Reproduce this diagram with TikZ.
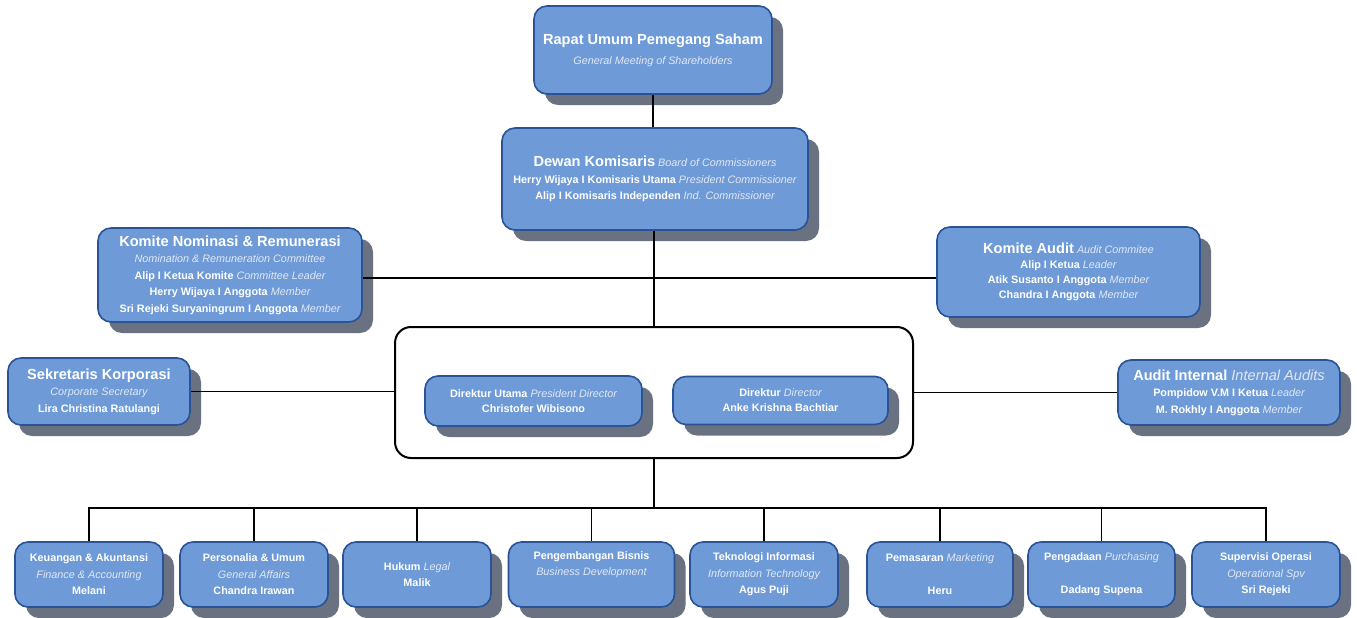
\documentclass[tikz,border=0pt]{standalone}
\usepackage{fontspec}
\setmainfont{Liberation Sans}
\usetikzlibrary{shadows}
\definecolor{boxfill}{RGB}{110,155,216}
\definecolor{boxline}{RGB}{42,82,150}
\definecolor{shadowc}{RGB}{106,114,130}
\definecolor{subc}{RGB}{226,232,242}
\newcommand{\en}[1]{{\mdseries\itshape\color{subc}#1}}
\newcommand{\ttl}[1]{{\fontsize{14.6}{17}\selectfont #1}}
\tikzset{
  orgbox/.style={draw=boxline, line width=1.6pt, fill=boxfill, rounded corners=13pt,
    text=white, align=center, inner sep=1pt,
    font=\bfseries\fontsize{10.8}{16.5}\selectfont,
    drop shadow={shadow xshift=11pt, shadow yshift=-11pt, fill=shadowc, opacity=1}},
  bigbox/.style={draw=black, line width=2pt, fill=white, rounded corners=16pt},
  link/.style={line width=1.8pt, draw=black},
}
\begin{document}
\begin{tikzpicture}[x=1pt,y=-1pt]
\useasboundingbox[fill=white] (0,0) rectangle (1357,618);

\node[orgbox, minimum width=238pt, minimum height=88pt] (rups) at (653,50)
  {\ttl{Rapat Umum Pemegang Saham}\\[3.5pt]\en{General Meeting of Shareholders}};

\node[orgbox, minimum width=306pt, minimum height=102pt] (dewan) at (655,179)
  {\ttl{Dewan Komisaris} \en{Board of Commissioners}\\
   Herry Wijaya I Komisaris Utama \en{President Commissioner}\\
   Alip I Komisaris Independen \en{Ind. Commissioner}};

\node[orgbox, minimum width=264pt, minimum height=94pt] (kn) at (230,275)
  {\ttl{Komite Nominasi \& Remunerasi}\\
   \en{Nomination \& Remuneration Committee}\\
   Alip I Ketua Komite \en{Committee Leader}\\
   Herry Wijaya I Anggota \en{Member}\\
   Sri Rejeki Suryaningrum I Anggota \en{Member}};

\node[orgbox, minimum width=263pt, minimum height=90pt, font=\bfseries\fontsize{10.8}{15}\selectfont] (ka) at (1068.5,272)
  {\ttl{Komite Audit} \en{Audit Commitee}\\
   Alip I Ketua \en{Leader}\\
   Atik Susanto I Anggota \en{Member}\\
   Chandra I Anggota \en{Member}};

\node[bigbox, minimum width=518pt, minimum height=131pt] (big) at (654,392.5) {};

\node[orgbox, minimum width=182pt, minimum height=67pt] (sek) at (99,391.5)
  {\ttl{Sekretaris Korporasi}\\ \en{Corporate Secretary}\\ Lira Christina Ratulangi};

\node[orgbox, minimum width=217pt, minimum height=50pt, font=\bfseries\fontsize{10.8}{15}\selectfont] (du) at (533.5,401)
  {Direktur Utama \en{President Director}\\ Christofer Wibisono};

\node[orgbox, minimum width=215pt, minimum height=48pt, font=\bfseries\fontsize{10.8}{15}\selectfont] (dir) at (780.5,400.5)
  {Direktur \en{Director}\\ Anke Krishna Bachtiar};

\node[orgbox, minimum width=222pt, minimum height=65pt] (ai) at (1229,392.5)
  {\ttl{Audit Internal \en{Internal Audits}}\\
   Pompidow V.M I Ketua \en{Leader}\\
   M. Rokhly I Anggota \en{Member}};

\node[orgbox, minimum width=148pt, minimum height=65pt] (b1) at (89,574.5)
  {Keuangan \& Akuntansi\\ \en{Finance \& Accounting}\\ Melani};
\node[orgbox, minimum width=148pt, minimum height=65pt] (b2) at (254,574.5)
  {Personalia \& Umum\\ \en{General Affairs}\\ Chandra Irawan};
\node[orgbox, minimum width=148pt, minimum height=65pt] (b3) at (417,574.5)
  {Hukum \en{Legal}\\ Malik};
\node[orgbox, minimum width=166pt, minimum height=65pt] (b4) at (591.5,574.5)
  {Pengembangan Bisnis\\ \en{Business Development}\\ \strut};
\node[orgbox, minimum width=148pt, minimum height=65pt] (b5) at (764,574.5)
  {Teknologi Informasi\\ \en{Information Technology}\\ Agus Puji};
\node[orgbox, minimum width=146pt, minimum height=65pt] (b6) at (940,574.5)
  {Pemasaran \en{Marketing}\\ \strut\\ Heru};
\node[orgbox, minimum width=147pt, minimum height=65pt] (b7) at (1101.5,574.5)
  {Pengadaan \en{Purchasing}\\ \strut\\ Dadang Supena};
\node[orgbox, minimum width=148pt, minimum height=65pt] (b8) at (1266,574.5)
  {Supervisi Operasi\\ \en{Operational Spv}\\ Sri Rejeki};

\coordinate (hl) at (654,278);
\coordinate (bus) at (654,508);

\draw[link] (rups.south) -- (rups.south |- dewan.north);
\draw[link] (dewan.south -| big.north) -- (big.north);
\draw[link] (kn.east |- hl) -- (ka.west |- hl);
\draw[link] (sek.east) -- (sek.east -| big.west);
\draw[link] (big.east) -- (big.east -| ai.west);
\draw[link] (big.south) -- (bus);
\draw[link] (b1.north) -- (b1.north |- bus) -- (b8.north |- bus) -- (b8.north);
\foreach \n in {b2,b3,b4,b5,b6,b7}
  \draw[link] (\n.north) -- (\n.north |- bus);
\end{tikzpicture}
\end{document}
